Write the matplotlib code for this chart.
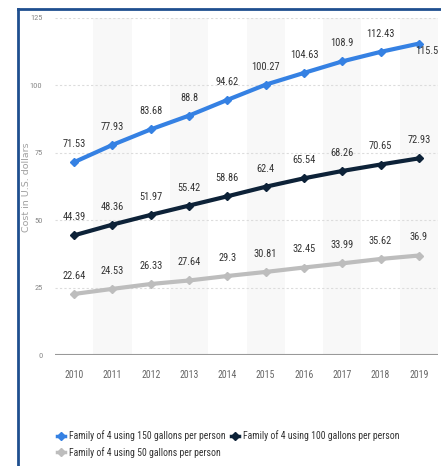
import matplotlib
matplotlib.use("Agg")
import matplotlib.pyplot as plt
from matplotlib.lines import Line2D
from matplotlib import font_manager

years = ["2010", "2011", "2012", "2013", "2014", "2015", "2016", "2017", "2018", "2019"]
gal150 = [71.53, 77.93, 83.68, 88.8, 94.62, 100.27, 104.63, 108.9, 112.43, 115.5]
gal100 = [44.39, 48.36, 51.97, 55.42, 58.86, 62.4, 65.54, 68.26, 70.65, 72.93]
gal50 = [22.64, 24.53, 26.33, 27.64, 29.3, 30.81, 32.45, 33.99, 35.62, 36.9]
series_names = ["Family of 4 using 150 gallons per person",
                "Family of 4 using 100 gallons per person",
                "Family of 4 using 50 gallons per person"]
y_ticks = [0, 25, 50, 75, 100, 125]

names = {f.name for f in font_manager.fontManager.ttflist}
narrow = "DejaVu Sans"
for cand in ["Roboto Condensed", "Open Sans Condensed", "Sofia Sans Semi Condensed",
             "Liberation Sans Narrow", "Sofia Sans Condensed"]:
    if cand in names:
        narrow = cand
        break
plt.rcParams["font.family"] = [narrow, "DejaVu Sans"]

colors = ["#3581e3", "#0d2238", "#bdbdbd"]

fig = plt.figure(figsize=(4.41, 4.66), dpi=100)
ax = fig.add_axes([55 / 441, 1 - 355 / 466, 383 / 441, 337 / 466])

x = list(range(len(years)))
ax.set_xlim(-0.5, len(years) - 0.5)
ax.set_ylim(0, 125)

# alternating column shading
for i in x:
    if i % 2 == 1:
        ax.axvspan(i - 0.5, i + 0.5, color="#f8f8f8", zorder=0, lw=0)

for t in y_ticks[1:]:
    ax.axhline(t, color="#dcdcdc", lw=0.8, ls=(0, (2, 2)), zorder=1)
ax.axhline(0, color="#999999", lw=1.5, zorder=2)

for vals, c in zip([gal150, gal100, gal50], colors):
    ax.plot(x, vals, color=c, lw=3.0, marker="D", ms=4.5, zorder=3,
            solid_capstyle="round")

for vals in [gal150, gal100, gal50]:
    for i, v in enumerate(vals):
        if vals is gal150 and i == len(vals) - 1:
            ax.annotate(f"{v:g}", (i, v), xytext=(6, -5), textcoords="offset points",
                        ha="center", va="center", fontsize=7.5, color="#333333", zorder=4)
        else:
            ax.annotate(f"{v:g}", (i, v), xytext=(0, 13), textcoords="offset points",
                        ha="center", va="center", fontsize=7.5, color="#333333", zorder=4)

ax.set_xticks(x)
ax.set_xticklabels(years)
ax.set_yticks(y_ticks)
ax.tick_params(axis="x", length=0, labelsize=7, labelcolor="#666666", pad=11)
ax.tick_params(axis="y", length=0, labelsize=6, labelcolor="#888888", pad=9)
for s in ax.spines.values():
    s.set_visible(False)

fig.text(27 / 441, 1 - 187 / 466, "Cost in U.S. dollars", rotation=90,
         ha="center", va="center", fontsize=6.8, color="#a0a0a0",
         family="DejaVu Sans")

# frame edges
fig.add_artist(Line2D([18 / 441, 18 / 441], [0, 1 - 9 / 466], color="#1f4f8f", lw=2,
                      transform=fig.transFigure))
fig.add_artist(Line2D([18 / 441, 1], [1 - 9 / 466, 1 - 9 / 466], color="#1f4f8f", lw=2,
                      transform=fig.transFigure))

# legend: 150 and 100 on the first row, 50 below
order = [0, 2, 1]
handles = [Line2D([0], [0], color=colors[k], lw=2.5, marker="D", ms=4.5) for k in order]
labels = [series_names[k] for k in order]
fig.legend(handles, labels, ncol=2, loc="upper left",
           bbox_to_anchor=(57 / 441, 1 - 430 / 466), frameon=False,
           fontsize=7, handlelength=0.8, handletextpad=0.4, columnspacing=0.6,
           labelspacing=0.6, borderaxespad=0, borderpad=0, labelcolor="#333333")

fig.savefig("out.png", dpi=100)
